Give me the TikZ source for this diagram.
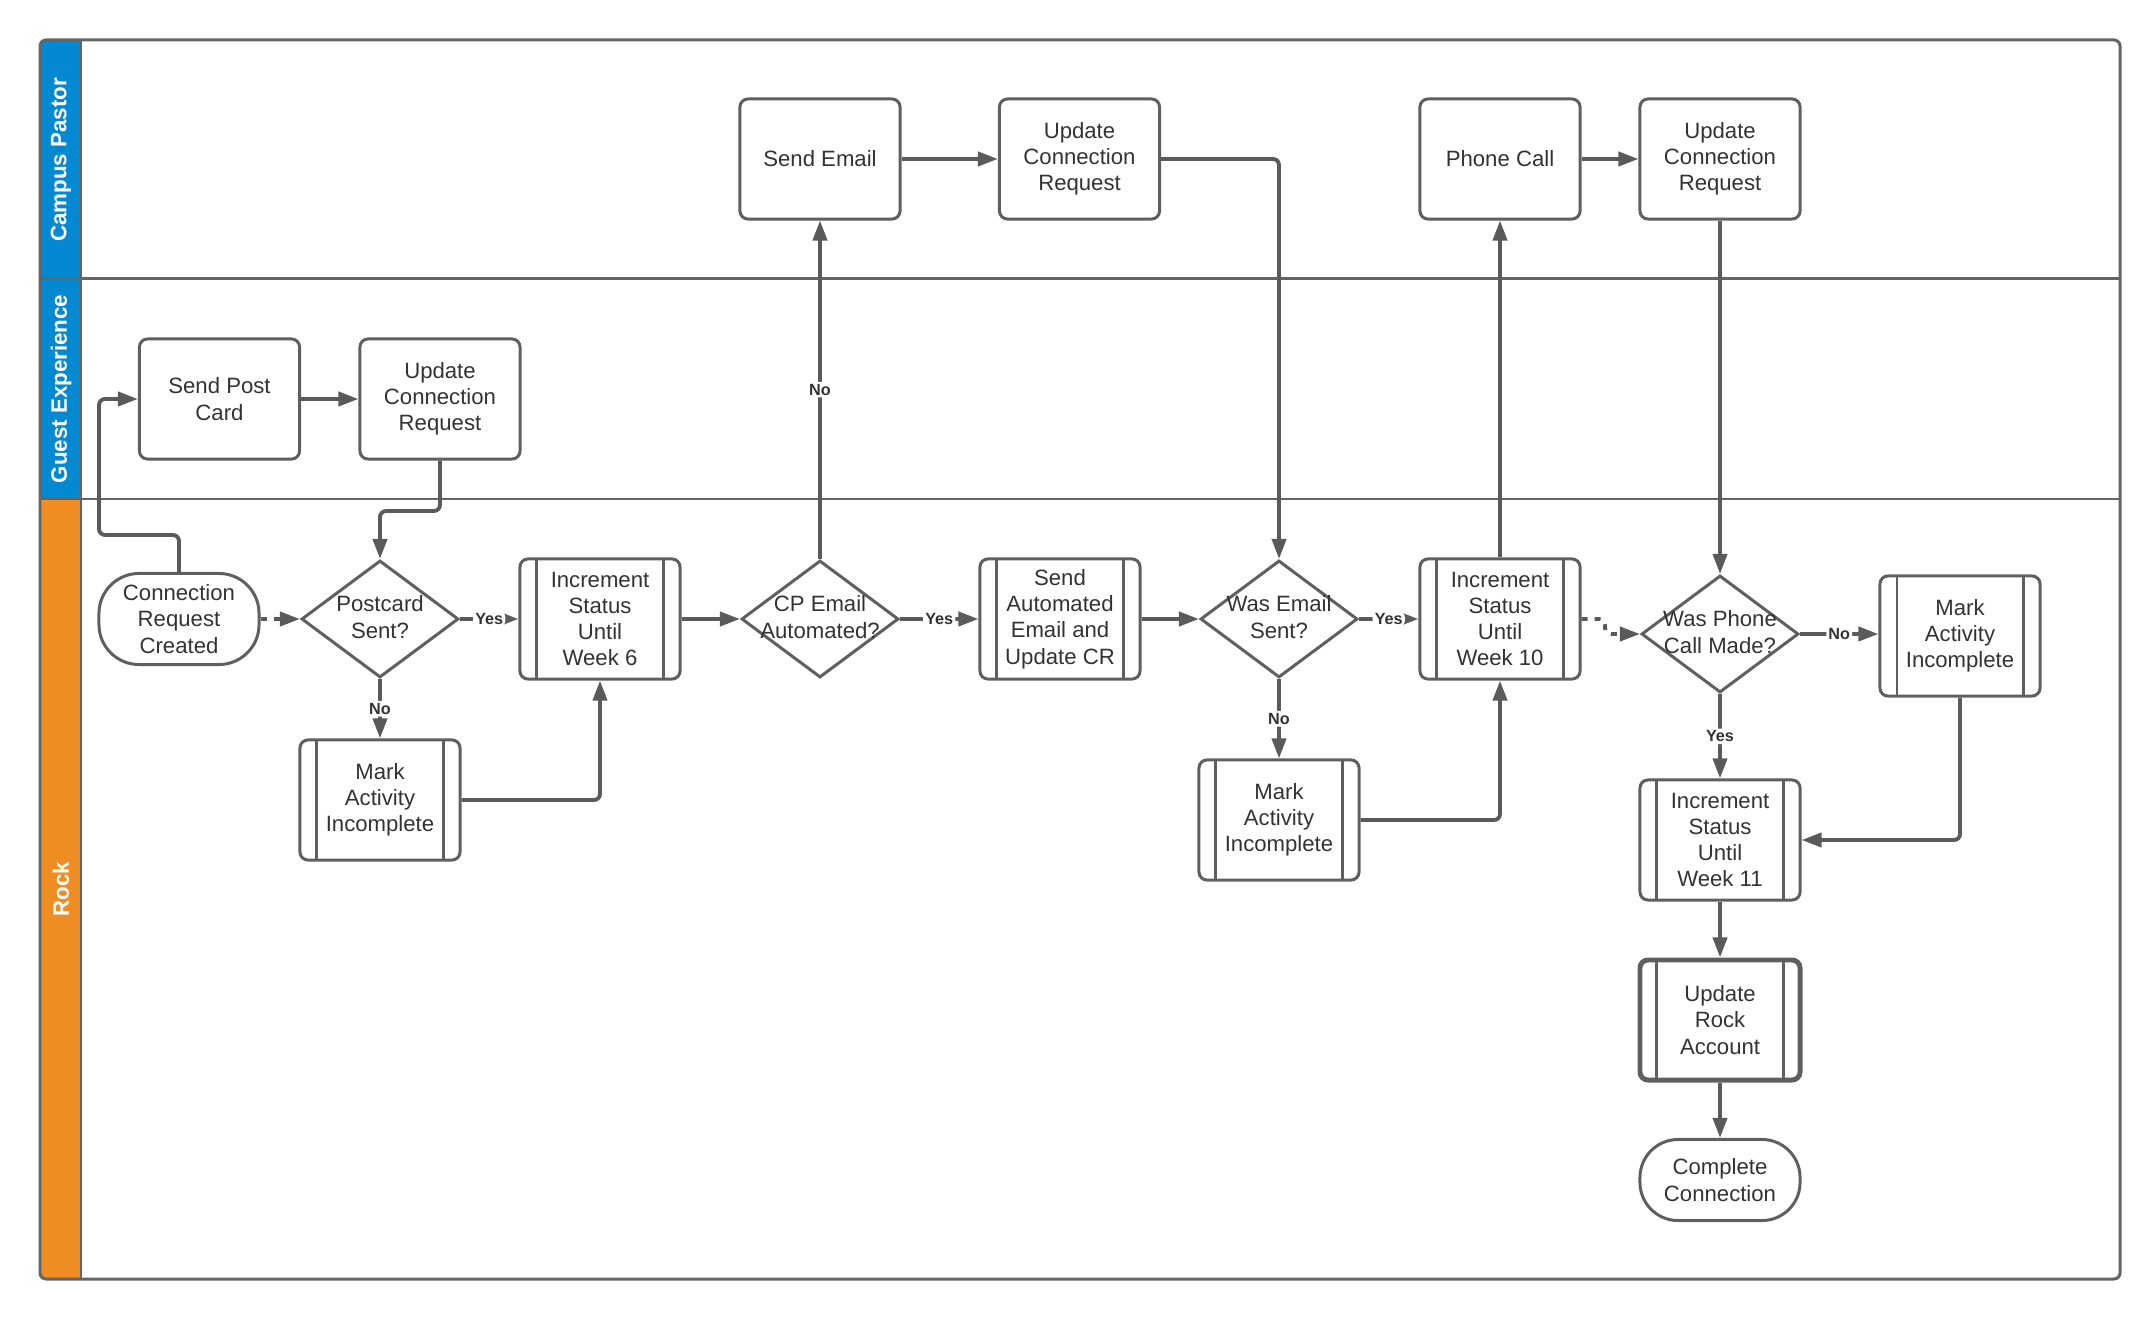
\documentclass[tikz,border=0pt]{standalone}
\usepackage{fontspec}
\setmainfont{Liberation Sans}
\usetikzlibrary{shapes.geometric,arrows.meta}
\definecolor{linegray}{RGB}{90,90,90}
\definecolor{boxgray}{RGB}{95,95,95}
\definecolor{textgray}{RGB}{51,51,51}
\definecolor{headblue}{RGB}{2,137,209}
\definecolor{headorange}{RGB}{239,140,34}
\definecolor{framegray}{RGB}{100,100,100}
\tikzset{
  nodetext/.style={font=\fontsize{6.3}{7.45}\selectfont, align=center, text=textgray},
  box/.style={nodetext, draw=boxgray, line width=0.85pt, rounded corners=0.08cm,
    minimum width=1.6cm, minimum height=1.2cm, inner sep=0pt, fill=white},
  proc/.style={box, path picture={
    \draw[boxgray, line width=0.85pt]
      ([xshift=0.17cm]path picture bounding box.north west) -- ([xshift=0.17cm]path picture bounding box.south west)
      ([xshift=-0.17cm]path picture bounding box.north east) -- ([xshift=-0.17cm]path picture bounding box.south east);}},
  term/.style={box, rounded corners=0.4cm},
  dec/.style={diamond, draw=boxgray, line width=0.85pt, fill=white,
    minimum width=1.57cm, minimum height=1.17cm, inner sep=0pt,
    label={[nodetext, yshift=0.02cm]center:#1}},
  conn/.style={draw=linegray, line width=1.1pt, rounded corners=0.06cm,
    -{Triangle[length=0.2cm,width=0.14cm]}},
  dashconn/.style={conn, dash pattern=on 0.06cm off 0.07cm},
  lbl/.style={font=\bfseries\fontsize{4.6}{5}\selectfont, fill=white, inner sep=0.6pt, text=textgray},
  lanetitle/.style={font=\bfseries\fontsize{6.35}{7}\selectfont, text=white, rotate=90, inner sep=0pt},
}
\begin{document}
\begin{tikzpicture}[x=0.01cm, y=-0.01cm]
\useasboundingbox (0,0) rectangle (2137,1322);
% lanes
\begin{scope}
  \clip[rounded corners=0.06cm] (40,40) rectangle (2120,1279);
  \fill[headblue] (40,40) rectangle (81,499);
  \fill[headorange] (40,499) rectangle (81,1279);
\end{scope}
\draw[framegray, line width=0.85pt] (40,279) -- (2120,279) (40,499) -- (2120,499) (81,40) -- (81,1279);
\draw[framegray, line width=0.85pt, rounded corners=0.06cm] (40,40) rectangle (2120,1279);
\node[lanetitle] (t1) at (61,160) {Campus Pastor};
\node[lanetitle] (t2) at (61,389) {Guest Experience};
\node[lanetitle] (t3) at (61,889) {Rock};
% Campus Pastor lane
\node[box] (sendemail) at (820,159) {Send Email};
\node[box] (ucr1) at (1079.5,159) {Update\\Connection\\Request};
\node[box] (phone) at (1500,159) {Phone Call};
\node[box] (ucr2) at (1720,159) {Update\\Connection\\Request};
% Guest Experience lane
\node[box] (postcard) at (219.5,399) {Send Post\\Card};
\node[box] (ucrg) at (440,399) {Update\\Connection\\Request};
% Rock lane
\node[term, minimum height=0.91cm] (start) at (179,619) {Connection\\Request\\Created};
\node[dec={Postcard\\Sent?}] (pcsent) at (380,619) {};
\node[proc] (w6) at (600,619) {Increment\\Status\\Until\\Week 6};
\node[dec={CP Email\\Automated?}] (cpauto) at (820,619) {};
\node[proc] (sendauto) at (1060,619) {Send\\Automated\\Email and\\Update CR};
\node[dec={Was Email\\Sent?}] (emailsent) at (1279,619) {};
\node[proc] (w10) at (1500,619) {Increment\\Status\\Until\\Week 10};
\node[dec={Was Phone\\Call Made?}] (phonemade) at (1720,634) {};
\node[proc] (mark3) at (1960,636) {Mark\\Activity\\Incomplete};
\node[proc] (mark1) at (380,800) {Mark\\Activity\\Incomplete};
\node[proc] (mark2) at (1279,820) {Mark\\Activity\\Incomplete};
\node[proc] (w11) at (1720,840) {Increment\\Status\\Until\\Week 11};
\node[proc, line width=1.4pt] (rockacct) at (1720,1020) {Update\\Rock\\Account};
\node[term, minimum height=0.81cm, rounded corners=0.38cm] (done) at (1720,1180) {Complete\\Connection};
% helper coordinates
\coordinate (c1) at (99,535);
\coordinate (c2) at (440,511);
\coordinate (c3) at (1605,619);
% connectors
\draw[conn] (start.north) |- (c1) |- (postcard.west);
\draw[conn] (postcard) -- (ucrg);
\draw[conn] (ucrg.south) -- (c2) -| (pcsent.north);
\draw[dashconn] (start) -- (pcsent);
\draw[conn] (pcsent) -- node[lbl]{Yes} (w6);
\draw[conn] (pcsent) -- node[lbl]{No} (mark1);
\draw[conn] (mark1.east) -| (w6.south);
\draw[conn] (w6) -- (cpauto);
\draw[conn] (cpauto) -- node[lbl]{No} (sendemail);
\draw[conn] (cpauto) -- node[lbl]{Yes} (sendauto);
\draw[conn] (sendemail) -- (ucr1);
\draw[conn] (ucr1.east) -| (emailsent.north);
\draw[conn] (sendauto) -- (emailsent);
\draw[conn] (emailsent) -- node[lbl]{Yes} (w10);
\draw[conn] (emailsent) -- node[lbl]{No} (mark2);
\draw[conn] (mark2.east) -| (w10.south);
\draw[conn] (w10) -- (phone);
\draw[conn] (phone) -- (ucr2);
\draw[conn] (ucr2) -- (phonemade);
\draw[dashconn] (w10.east) -- (c3) |- (phonemade.west);
\draw[conn] (phonemade.east) -- node[lbl]{No} (mark3.west |- phonemade.east);
\draw[conn] (phonemade) -- node[lbl]{Yes} (w11);
\draw[conn] (mark3.south) |- (w11.east);
\draw[conn] (w11) -- (rockacct);
\draw[conn] (rockacct) -- (done);
\end{tikzpicture}
\end{document}
